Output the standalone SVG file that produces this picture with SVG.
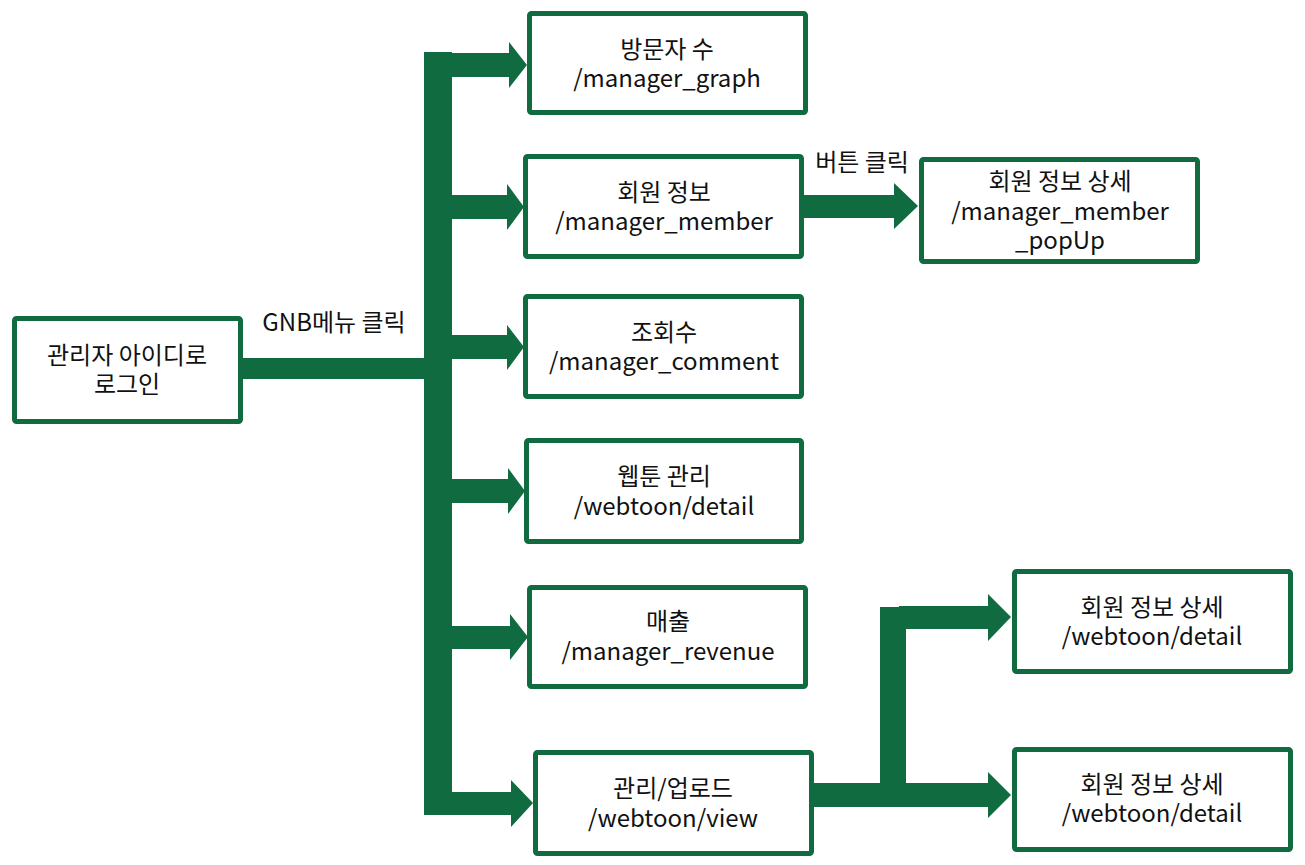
<svg xmlns="http://www.w3.org/2000/svg" width="1305" height="865" viewBox="0 0 1305 865">
<style>
.box{fill:#fff;stroke:#116b40;stroke-width:5;}
.t{font-family:"Noto Sans CJK KR","Noto Sans",sans-serif;font-size:24px;fill:#111;text-anchor:middle;}
.c{fill:#116b40;stroke:none;}
</style>
<rect width="1305" height="865" fill="#fff"/>
<g id="connectors">
  <rect class="c" x="240" y="358" width="190" height="21"/>
  <rect class="c" x="424" y="52" width="28" height="763"/>
  <polygon class="c" points="450,53 509,53 509,42 527,65 509,88 509,77 450,77"/>
  <polygon class="c" points="450,195 507,195 507,184 524,207 507,230 507,219 450,219"/>
  <polygon class="c" points="450,335 507,335 507,325 524,347 507,370 507,359 450,359"/>
  <polygon class="c" points="450,479 508,479 508,468 525,491 508,514 508,503 450,503"/>
  <polygon class="c" points="450,626 510,626 510,614 528,637 510,660 510,649 450,649"/>
  <polygon class="c" points="450,792 511,792 511,780 533,803 511,827 511,815 424,815 424,800 450,800"/>
  <polygon class="c" points="802,195 894,195 894,183 918,206 894,229 894,218 802,218"/>
  <polygon class="c" points="812,783 880,783 880,607 899,607 899,606 988,606 988,594 1011,617 988,641 988,629 906,629 906,783 988,783 988,772 1011,795 988,818 988,807 812,807"/>
  <text class="t" x="334" y="331">GNB메뉴 클릭</text>
  <text class="t" x="862" y="171">버튼 클릭</text>
</g>
<g id="login">
  <rect class="box" x="14.5" y="318.5" width="226" height="103" rx="2"/>
  <text class="t" x="127" y="364">관리자 아이디로</text>
  <text class="t" x="127" y="393">로그인</text>
</g>
<g id="graph">
  <rect class="box" x="529.5" y="13.5" width="276" height="99" rx="2"/>
  <text class="t" x="667" y="58">방문자 수</text>
  <text class="t" x="667" y="87">/manager_graph</text>
</g>
<g id="member">
  <rect class="box" x="525.5" y="156.5" width="276" height="100" rx="2"/>
  <text class="t" x="664" y="201">회원 정보</text>
  <text class="t" x="664" y="230">/manager_member</text>
</g>
<g id="comment">
  <rect class="box" x="525.5" y="296.5" width="276" height="100" rx="2"/>
  <text class="t" x="664" y="341">조회수</text>
  <text class="t" x="664" y="370">/manager_comment</text>
</g>
<g id="webtoon-detail">
  <rect class="box" x="526.5" y="440.5" width="275" height="101" rx="2"/>
  <text class="t" x="664" y="485">웹툰 관리</text>
  <text class="t" x="664" y="515">/webtoon/detail</text>
</g>
<g id="revenue">
  <rect class="box" x="529.5" y="587.5" width="276" height="99" rx="2"/>
  <text class="t" x="668" y="630">매출</text>
  <text class="t" x="668" y="660">/manager_revenue</text>
</g>
<g id="view">
  <rect class="box" x="535.5" y="752.5" width="276" height="101" rx="2"/>
  <text class="t" x="673" y="797">관리/업로드</text>
  <text class="t" x="673" y="827">/webtoon/view</text>
</g>
<g id="popup">
  <rect class="box" x="921.5" y="159.5" width="276" height="102" rx="2"/>
  <text class="t" x="1060" y="190">회원 정보 상세</text>
  <text class="t" x="1060" y="220">/manager_member</text>
  <text class="t" x="1060" y="249">_popUp</text>
</g>
<g id="detail1">
  <rect class="box" x="1014.5" y="571.5" width="276" height="100" rx="2"/>
  <text class="t" x="1152" y="616">회원 정보 상세</text>
  <text class="t" x="1152" y="645">/webtoon/detail</text>
</g>
<g id="detail2">
  <rect class="box" x="1014.5" y="749.5" width="276" height="100" rx="2"/>
  <text class="t" x="1152" y="793">회원 정보 상세</text>
  <text class="t" x="1152" y="822">/webtoon/detail</text>
</g>
</svg>
